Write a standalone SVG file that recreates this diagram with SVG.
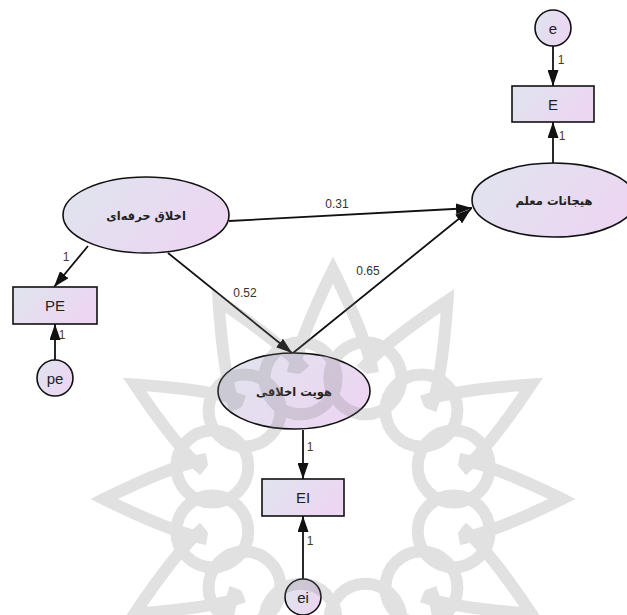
<svg xmlns="http://www.w3.org/2000/svg" xmlns:xlink="http://www.w3.org/1999/xlink" width="627" height="615" viewBox="0 0 627 615">
<defs>
<linearGradient id="fill" x1="0" y1="0" x2="1" y2="0.4">
<stop offset="0" stop-color="#dfe5ee"/>
<stop offset="1" stop-color="#ecd6f2"/>
</linearGradient>
<marker id="arr" viewBox="0 0 16 11" refX="16" refY="5.5" markerWidth="16" markerHeight="11" markerUnits="userSpaceOnUse" orient="auto">
<path d="M0,0 L16,5.5 L0,11 Z" fill="#111"/>
</marker>
<path id="petal" d="M126,-40 Q160,-34 229,0 Q160,34 126,40"/>
<style>
.shape{fill:url(#fill);stroke:#111;stroke-width:1.6}
.conn line{stroke:#111;stroke-width:1.8;marker-end:url(#arr)}
.lbl{font-family:"Liberation Sans",Arial,sans-serif;font-size:12px;fill:#333;text-anchor:middle}
.one{font-family:"Liberation Sans",Arial,sans-serif;font-size:12px;fill:#4a3a1a;text-anchor:middle}
.nt{font-family:"Liberation Sans",Arial,sans-serif;font-size:15px;fill:#222;text-anchor:middle;dominant-baseline:central}
.ar{font-family:"DejaVu Sans","Noto Sans",sans-serif;font-size:11.5px;font-weight:bold;fill:#222;text-anchor:middle;dominant-baseline:central}
.wm{fill:none;stroke:#777;stroke-width:12}
</style>
</defs>
<rect width="627" height="615" fill="#fff"/>

<g id="connectors" class="conn">
<line x1="553" y1="46" x2="553" y2="86"/>
<line x1="553" y1="163" x2="553" y2="122"/>
<line x1="229" y1="221" x2="472" y2="208"/>
<line x1="168" y1="253" x2="292" y2="353"/>
<line x1="293" y1="353" x2="471" y2="209"/>
<line x1="88" y1="246" x2="54" y2="287"/>
<line x1="55" y1="360" x2="55" y2="324"/>
<line x1="303" y1="430" x2="303" y2="479"/>
<line x1="303" y1="579" x2="303" y2="516"/>
</g>

<g id="edge-labels">
<text class="one" x="561" y="64">1</text>
<text class="one" x="562" y="140">1</text>
<text class="lbl" x="337" y="208">0.31</text>
<text class="lbl" x="245" y="297">0.52</text>
<text class="lbl" x="368" y="275">0.65</text>
<text class="one" x="66" y="261">1</text>
<text class="one" x="62" y="339">1</text>
<text class="one" x="310" y="451">1</text>
<text class="one" x="310" y="545">1</text>
</g>

<g id="node-e"><circle class="shape" cx="553" cy="28" r="18"/><text class="nt" x="553" y="28">e</text></g>
<g id="node-E"><rect class="shape" x="512" y="86" width="82" height="36"/><text class="nt" x="553" y="104">E</text></g>
<g id="node-teacher-emotions"><ellipse class="shape" cx="554" cy="200" rx="82" ry="37"/><text class="ar" x="554" y="201">هیجانات معلم</text></g>
<g id="node-professional-ethics"><ellipse class="shape" cx="146" cy="215" rx="83" ry="38"/><text class="ar" x="146" y="216">اخلاق حرفه‌ای</text></g>
<g id="node-PE"><rect class="shape" x="13" y="287" width="84" height="37"/><text class="nt" x="55" y="305">PE</text></g>
<g id="node-pe"><circle class="shape" cx="55" cy="378" r="18"/><text class="nt" x="55" y="378">pe</text></g>
<g id="node-moral-identity"><ellipse class="shape" cx="294" cy="391" rx="76" ry="38"/><text class="ar" x="294" y="392">هویت اخلاقی</text></g>
<g id="node-EI"><rect class="shape" x="262" y="479" width="82" height="37"/><text class="nt" x="303" y="497">EI</text></g>
<g id="node-ei"><circle class="shape" cx="303" cy="597" r="18"/><text class="nt" x="303" y="597">ei</text></g>

<g id="watermark" transform="translate(333,499)" opacity="0.22">
<g class="wm">
<use xlink:href="#petal" transform="rotate(0)"/>
<use xlink:href="#petal" transform="rotate(30)"/>
<use xlink:href="#petal" transform="rotate(60)"/>
<use xlink:href="#petal" transform="rotate(90)"/>
<use xlink:href="#petal" transform="rotate(120)"/>
<use xlink:href="#petal" transform="rotate(150)"/>
<use xlink:href="#petal" transform="rotate(180)"/>
<use xlink:href="#petal" transform="rotate(210)"/>
<use xlink:href="#petal" transform="rotate(240)"/>
<use xlink:href="#petal" transform="rotate(270)"/>
<use xlink:href="#petal" transform="rotate(300)"/>
<use xlink:href="#petal" transform="rotate(330)"/>
<circle cx="120.7" cy="32.4" r="36"/><circle cx="88.4" cy="88.4" r="36"/><circle cx="32.4" cy="120.7" r="36"/>
<circle cx="-32.4" cy="120.7" r="36"/><circle cx="-88.4" cy="88.4" r="36"/><circle cx="-120.7" cy="32.4" r="36"/>
<circle cx="-120.7" cy="-32.4" r="36"/><circle cx="-88.4" cy="-88.4" r="36"/><circle cx="-32.4" cy="-120.7" r="36"/>
<circle cx="32.4" cy="-120.7" r="36"/><circle cx="88.4" cy="-88.4" r="36"/><circle cx="120.7" cy="-32.4" r="36"/>
</g>
</g>
</svg>
